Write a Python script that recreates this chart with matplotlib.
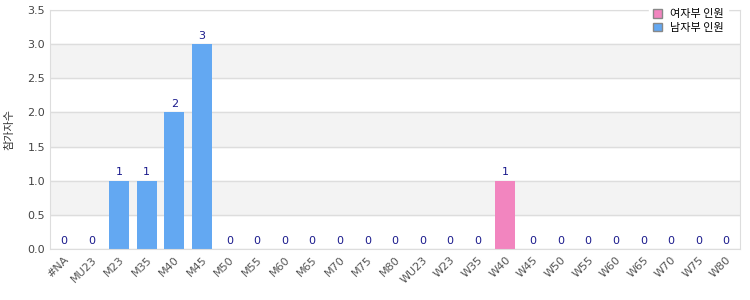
import matplotlib
matplotlib.use("Agg")
import matplotlib.pyplot as plt
from matplotlib.patches import Patch

plt.rcParams['font.family'] = ['DejaVu Sans', 'Noto Sans CJK KR']

categories = ['#NA', 'MU23', 'M23', 'M35', 'M40', 'M45', 'M50', 'M55', 'M60', 'M65',
              'M70', 'M75', 'M80', 'WU23', 'W23', 'W35', 'W40', 'W45', 'W50', 'W55',
              'W60', 'W65', 'W70', 'W75', 'W80']
men = [0, 0, 1, 1, 2, 3, 0, 0, 0, 0, 0, 0, 0, 0, 0, 0, 0, 0, 0, 0, 0, 0, 0, 0, 0]
women = [0, 0, 0, 0, 0, 0, 0, 0, 0, 0, 0, 0, 0, 0, 0, 0, 1, 0, 0, 0, 0, 0, 0, 0, 0]
legend_labels = ['여자부 인원', '남자부 인원']
ylabel = '참가자수'

blue = '#63a8f2'
pink = '#f285bf'

fig = plt.figure(figsize=(7.5, 3), dpi=100)
ax = fig.add_axes([50 / 750, 51 / 300, 690 / 750, 239 / 300])

x = range(len(categories))
ax.set_xlim(-0.5, len(categories) - 0.5)
ax.set_ylim(0, 3.5)

# alternating bands
for i, lo in enumerate([0, 0.5, 1.0, 1.5, 2.0, 2.5, 3.0]):
    if i % 2 == 1:
        ax.axhspan(lo, lo + 0.5, color='#f3f3f3', zorder=0)
ax.set_yticks([0, 0.5, 1.0, 1.5, 2.0, 2.5, 3.0, 3.5])
ax.yaxis.grid(True, color='#dddddd', linewidth=1, zorder=1)
ax.set_axisbelow(True)

ax.bar(x, men, width=0.72, color=blue, zorder=2)
ax.bar(x, women, bottom=men, width=0.72, color=pink, zorder=2)

for i in x:
    total = men[i] + women[i]
    ax.text(i, total + 0.05, str(total), ha='center', va='bottom',
            color='#1a1a8c', fontsize=8, zorder=3)

ax.set_xticks(list(x))
ax.set_xticklabels(categories, rotation=45, ha='right', rotation_mode='anchor',
                   fontsize=8, color='#555555')
ax.tick_params(axis='y', labelsize=8, labelcolor='#444444', length=0)
ax.tick_params(axis='x', length=0, pad=4)
ax.set_yticklabels(['0.0', '0.5', '1.0', '1.5', '2.0', '2.5', '3.0', '3.5'])
ax.set_ylabel(ylabel, fontsize=8, color='#333333', family=['Noto Sans CJK KR', 'DejaVu Sans'])
ax.yaxis.set_label_coords(-0.052, 0.5)

for s in ax.spines.values():
    s.set_color('#dddddd')

handles = [Patch(facecolor=pink, edgecolor='#888888'), Patch(facecolor=blue, edgecolor='#888888')]
leg = ax.legend(handles, legend_labels, loc='upper right', bbox_to_anchor=(0.99, 1.04),
                frameon=True, fancybox=False, framealpha=1, edgecolor='white',
                prop={'family': ['Noto Sans CJK KR', 'DejaVu Sans'], 'size': 8},
                handlelength=0.8, handleheight=0.8, labelspacing=0.3, borderpad=0.3)
leg.set_zorder(5)

fig.savefig('out.png', dpi=100)
